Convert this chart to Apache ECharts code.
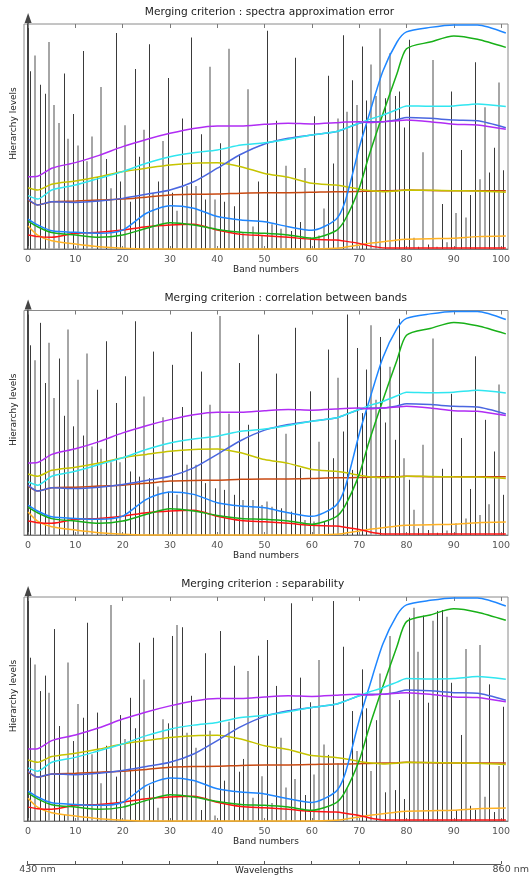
<!DOCTYPE html>
<html><head><meta charset="utf-8">
<script src="https://cdn.jsdelivr.net/npm/echarts@6/dist/echarts.min.js"></script>
<style>html,body{margin:0;padding:0;background:#fff}#c{width:532px;height:877px}</style>
</head><body><div id="c"></div>
<script>
// ---------- data ----------
const panelTitles = [
  'Merging criterion : spectra approximation error',
  'Merging criterion : correlation between bands',
  'Merging criterion : separability'
];
const bandTicks = [0, 10, 20, 30, 40, 50, 60, 70, 80, 90, 100];
const wavelengthRange = [430, 860];

// hierarchy levels per band (bands 0..100), one array per panel
const levelsSpectra = [79, 86, 73, 69, 92, 64, 56, 78, 49, 60,
  46, 88, 39, 50, 32, 72, 40, 27, 96, 30,
  55, 21, 80, 41, 53, 91, 25, 30, 48, 76,
  25, 17, 58, 28, 94, 28, 51, 22, 81, 22,
  47, 21, 89, 19, 42, 7, 71, 10, 30, 6,
  97, 11, 57, 9, 37, 8, 85, 12, 36, 5,
  59, 6, 18, 77, 38, 58, 95, 61, 75, 64,
  90, 66, 82, 68, 98, 67, 87, 68, 70, 54,
  93, 5, 1, 43, 2, 84, 1, 20, 3, 70,
  16, 44, 14, 24, 83, 31, 63, 34, 45, 74, 35];
const levelsCorrelation = [84.5, 77.8, 94.5, 67.7, 85.6, 61, 78.6, 53.1, 91.5, 48.4,
  69.2, 44.3, 80.8, 39.4, 64.7, 38.4, 86.3, 32.4, 58.8, 32.4,
  70.7, 28.3, 95.2, 26, 61.7, 25.3, 81.7, 21.6, 52.4, 19.3,
  75.8, 17.9, 57, 31.3, 90.5, 31.3, 72.8, 23.1, 58, 20.8,
  97.5, 20.1, 54, 17.9, 76.6, 15.6, 49.1, 15.6, 89.3, 13.4,
  14.9, 12.6, 71.9, 11.9, 45.1, 10.4, 92.3, 29.8, 6.7, 64,
  6, 41.5, 6, 82.6, 34.2, 70, 46.1, 98.2, 29, 83.3,
  54.3, 73.7, 93.4, 60.3, 88.2, 50.1, 74.9, 42.4, 96.3, 34.2,
  24.6, 11.2, 3, 40.2, 2.2, 87.5, 1, 29.5, 2, 62.9,
  5.2, 43.2, 7.4, 20.5, 79.6, 8.9, 51.3, 13.7, 37.2, 67, 17.9];
const levelsSeparability = [72.9, 69.9, 58, 64.9, 57.3, 85.7, 42.4, 2.7, 70.8, 35.7,
  52.2, 46.1, 88.5, 29.8, 48.4, 16.8, 33.6, 96.4, 19.8, 47.3,
  36.6, 55, 41.4, 79.6, 63.2, 15.8, 81.8, 5.9, 45.4, 43.6,
  82.6, 87.5, 86.5, 39.4, 55.9, 32.7, 4.9, 74.9, 40.3, 2.4,
  84.8, 18, 44.3, 69.3, 22, 27.7, 67, 10.4, 73.8, 20,
  80.8, 8, 60.3, 37.2, 14.9, 97.2, 18.8, 64, 11.6, 53,
  20.8, 71.9, 34.2, 29.5, 98.2, 25.8, 77.8, 14.6, 49.1, 31.3,
  67.7, 50.3, 22.3, 45, 65.9, 12.8, 82.6, 13.8, 54, 9.8,
  90.8, 95.2, 75.6, 91.7, 52.8, 89.4, 93.8, 94.2, 91.2, 61.7,
  4.9, 38.4, 76.8, 6.8, 5, 78.6, 10.8, 61, 4, 24.6, 51];

// 1 = grey (highlighted) band, 0 = dark band
const greySpectra = [0,1,0,0,1,1,1,0,1,0, 1,0,1,1,0,1,0,1,0,0, 1,0,0,0,1,0,1,0,1,0,
  0,1,0,1,0,1,0,0,1,1, 0,0,1,0,0,1,1,1,0,1, 0,1,0,1,1,0,0,0,1,0, 0,1,1,0,0,1,0,1,0,1,
  0,0,1,1,1,0,1,0,0,0, 0,1,0,1,0,1,1,0,1,0, 1,0,1,0,0,1,1,0,0,1,0];
const greyCorrelation = [0,1,0,0,1,1,0,0,1,0, 1,0,1,1,0,1,0,1,0,1, 0,0,0,0,1,0,0,1,1,0,
  0,1,0,1,0,1,0,0,1,0, 1,0,1,0,0,1,0,1,0,1, 1,1,0,0,1,0,0,0,1,0, 1,1,0,0,0,1,0,0,0,0,
  0,0,1,1,0,0,1,0,0,1, 0,1,0,1,0,1,0,0,1,0, 1,0,1,0,0,1,0,1,0,1,0];
const greySeparability = [0,1,0,0,1,0,0,0,1,0, 1,0,0,1,0,1,0,1,0,0, 1,0,0,0,1,0,0,1,1,0,
  0,1,0,1,0,1,0,0,1,1, 0,0,1,0,0,0,1,1,0,1, 0,1,0,1,1,0,1,0,0,0, 1,1,1,0,0,1,0,1,0,1,
  0,0,1,0,1,0,1,0,0,0, 0,1,1,0,0,1,0,0,1,0, 0,0,1,0,0,1,1,0,0,1,0];

// spectra of the classes (band positions and normalised values)
const curveBands = [0, 2, 5, 10, 15, 20, 25, 30, 35, 40, 45, 50, 55, 60, 65, 67, 70, 72, 75, 78, 80, 85, 90, 95, 101];
const specPurple = [32.1, 32.3, 35.9, 38.4, 41.6, 45.5, 48.7, 51.4, 53.6, 54.7, 54.7, 55.4, 55.9, 55.6, 56.1, 56.4, 56.6, 56.2, 56.6, 57.0, 57.3, 56.6, 55.4, 55.1, 53.2];
const specCyan = [23.7, 22.2, 26.2, 28.4, 31.4, 34.4, 38.1, 41.0, 42.8, 44.0, 46.2, 47.2, 48.8, 50.7, 52.1, 53.5, 56.0, 57.5, 59.5, 62.0, 63.6, 63.4, 63.6, 64.5, 63.3];
const specOlive = [27.2, 26.2, 28.8, 30.2, 32.1, 34.4, 35.9, 37.3, 38.1, 38.3, 36.6, 33.6, 31.9, 29.2, 28.4, 27.8, 26.6, 26.0, 25.5, 25.8, 26.2, 26.1, 25.9, 25.8, 25.2];
const specRoyal = [22.2, 19.6, 21.0, 20.7, 21.3, 22.5, 24.3, 26.2, 29.9, 35.9, 42.1, 46.7, 49.2, 50.7, 52.1, 53.5, 55.9, 56.6, 56.6, 57.5, 58.5, 58.1, 57.3, 57.0, 53.9];
const specBrown = [21.8, 19.6, 21.0, 21.3, 21.8, 22.2, 23.0, 24.0, 24.3, 24.4, 24.8, 25.0, 25.0, 25.2, 25.5, 25.5, 25.6, 25.7, 25.9, 26.0, 26.2, 26.0, 25.9, 25.9, 25.9];
const specBlue = [13.3, 10.7, 8.1, 7.4, 7.0, 8.4, 15.9, 19.2, 18.1, 14.4, 12.9, 12.1, 9.9, 8.3, 13.0, 21.0, 45.0, 59.0, 79.0, 92.0, 96.5, 98.5, 99.6, 99.6, 96.0];
const specGreen = [12.4, 9.9, 7.3, 6.2, 5.2, 6.2, 9.2, 11.7, 10.7, 8.7, 7.4, 7.0, 6.2, 4.8, 8.0, 13.0, 27.0, 41.0, 60.0, 78.0, 89.0, 92.0, 94.7, 93.2, 89.6];
const specRed = [6.2, 5.5, 5.2, 7.0, 7.4, 8.4, 9.9, 10.7, 11.0, 8.4, 6.5, 5.9, 5.2, 4.3, 4.0, 3.5, 2.5, 1.5, 0.5, 0.4, 0.4, 0.4, 0.4, 0.4, 0.4];
const specOrange = [10.2, 6.2, 3.7, 2.2, 1.0, 0.3, 0, 0, 0, 0, 0, 0, 0, 0, 0.3, 0.8, 1.8, 2.5, 3.2, 4.0, 4.3, 4.6, 4.8, 5.5, 5.8];

// ---------- chart ----------
const FONT = 'DejaVu Sans';
const panelLevels = [levelsSpectra, levelsCorrelation, levelsSeparability];
const panelGrey = [greySpectra, greyCorrelation, greySeparability];
const spectra = [
  {d: specBrown, c: '#c94a12'},
  {d: specOlive, c: '#c6c400'},
  {d: specOrange, c: '#ffb224'},
  {d: specRed, c: '#ff1414'},
  {d: specGreen, c: '#18b018'},
  {d: specBlue, c: '#1e86ff'},
  {d: specRoyal, c: '#4a66e0'},
  {d: specCyan, c: '#30e6f0'},
  {d: specPurple, c: '#b02cf4'}
];
const gridBoxes = [
  {left: 24, top: 24, width: 484, height: 225},
  {left: 24, top: 310.5, width: 484, height: 224.5},
  {left: 24, top: 597, width: 484, height: 224}
];
const titlePos = [[269.5, 6.5], [285.7, 292.3], [262.7, 578.3]];
const X_MIN = -0.87, X_MAX = 101.46;

const grids = [], xAxes = [], yAxes = [], series = [], titles = [];

function renderBar(params, api) {
  const x = api.value(0), v = api.value(1), g = api.value(2);
  const p0 = api.coord([x, 0]);
  const p1 = api.coord([x, v]);
  const px = g ? Math.round(p0[0]) : Math.round(p0[0]) + 0.5;
  return {
    type: 'line',
    shape: {x1: px, y1: p0[1], x2: px, y2: p1[1]},
    style: {stroke: g ? '#a6a6a6' : '#3a3a3a', lineWidth: g ? 2 : 1}
  };
}

for (let k = 0; k < 3; k++) {
  grids.push(Object.assign({show: true, borderColor: '#8a8a8a', borderWidth: 1, containLabel: false}, gridBoxes[k]));
  titles.push({
    text: panelTitles[k], left: titlePos[k][0], top: titlePos[k][1], textAlign: 'center', padding: 0,
    textStyle: {fontFamily: FONT, fontSize: 10.6, fontWeight: 'normal', color: '#1a1a1a'}
  });
  xAxes.push({
    type: 'value', gridIndex: k, position: 'bottom', min: X_MIN, max: X_MAX,
    axisLine: {show: true, lineStyle: {color: '#7a7a7a', width: 1}},
    axisTick: {show: true, inside: true, length: 3, customValues: bandTicks, lineStyle: {color: '#7a7a7a'}},
    axisLabel: {show: true, customValues: bandTicks, margin: 6, fontFamily: FONT, fontSize: 9.5, color: '#555'},
    splitLine: {show: false},
    name: 'Band numbers', nameLocation: 'middle', nameGap: 16, nameMoveOverlap: false,
    nameTextStyle: {fontFamily: FONT, fontSize: 9, color: '#222'}
  });
  xAxes.push({
    type: 'value', gridIndex: k, position: 'top', min: X_MIN, max: X_MAX,
    axisLine: {show: false},
    axisTick: {show: true, inside: true, length: 4, customValues: bandTicks, lineStyle: {color: '#7a7a7a'}},
    axisLabel: {show: false}, splitLine: {show: false}
  });
  yAxes.push({
    type: 'value', gridIndex: k, min: 0, max: 100,
    axisLine: {show: true, symbol: ['none', 'triangle'], symbolSize: [7, 10], symbolOffset: [0, 6],
      lineStyle: {color: '#444', width: 2}},
    axisTick: {show: false}, axisLabel: {show: false}, splitLine: {show: false},
    name: 'Hierarchy levels', nameLocation: 'middle', nameGap: 6, nameMoveOverlap: false,
    nameTextStyle: {fontFamily: FONT, fontSize: 9, color: '#222', padding: [0, 0, 0, 26]}
  });
  const lv = panelLevels[k], gr = panelGrey[k];
  series.push({
    type: 'custom', xAxisIndex: 2 * k, yAxisIndex: k, renderItem: renderBar,
    encode: {x: 0, y: 1}, silent: true, z: 1,
    data: lv.map((v, i) => [i + 0.5, v, gr[i]])
  });
  spectra.forEach((s, j) => {
    series.push({
      type: 'line', xAxisIndex: 2 * k, yAxisIndex: k, showSymbol: false, smooth: 0.25,
      silent: true, z: 3 + j, clip: false,
      lineStyle: {color: s.c, width: 1.5},
      data: curveBands.map((b, i) => [b, s.d[i]])
    });
  });
}

// wavelength axis
grids.push({left: 27.5, top: 863, width: 474, height: 1, show: false});
xAxes.push({
  type: 'value', gridIndex: 3, position: 'bottom', min: wavelengthRange[0], max: wavelengthRange[1], interval: 43,
  axisLine: {show: true, lineStyle: {color: '#555', width: 1}},
  axisTick: {show: true, inside: true, length: 3, lineStyle: {color: '#555'}},
  axisLabel: {
    show: true, margin: 1, showMinLabel: true, showMaxLabel: true,
    formatter: function (v) { return (v === wavelengthRange[0] || v === wavelengthRange[1]) ? '{l|' + v + ' nm}' : ''; },
    rich: {l: {fontFamily: FONT, fontSize: 9.5, color: '#444', padding: [0, 0, 0, 20]}}
  },
  splitLine: {show: false},
  name: 'Wavelengths', nameLocation: 'middle', nameGap: 2, nameMoveOverlap: false,
  nameTextStyle: {fontFamily: FONT, fontSize: 9, color: '#222', verticalAlign: 'top'}
});
yAxes.push({type: 'value', gridIndex: 3, show: false, min: 0, max: 1});

const chart = echarts.init(document.getElementById('c'), null, {renderer: 'canvas'});
chart.setOption({
  backgroundColor: '#fff', animation: false,
  title: titles, grid: grids, xAxis: xAxes, yAxis: yAxes, series: series
});
</script></body></html>
